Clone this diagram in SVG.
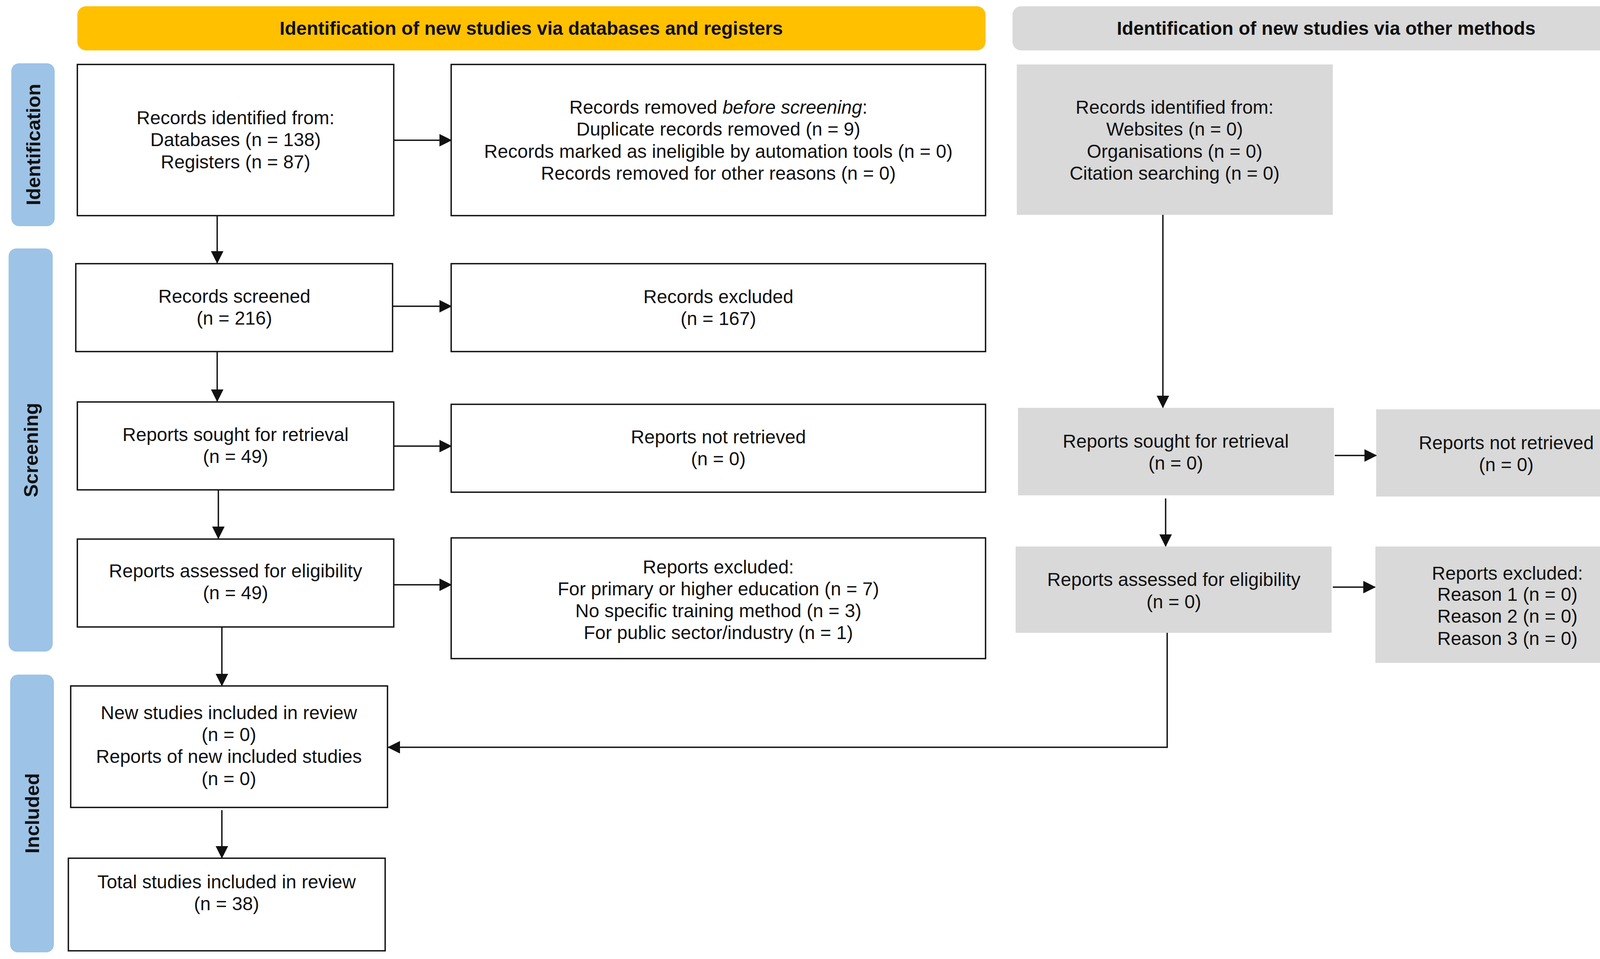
<svg xmlns="http://www.w3.org/2000/svg" width="4213" height="2455" viewBox="0 0 4213 2455">
<style>
text{font-family:"Liberation Sans",Arial,sans-serif;font-size:48px;fill:#111;text-anchor:middle}
.hd{font-weight:bold}
.side{font-weight:bold;font-size:50px}
.wbox{fill:#fff;stroke:#111;stroke-width:3.5}
.gbox{fill:#d9d9d9;stroke:none}
.conn{stroke:#111;stroke-width:3.5;fill:none}
</style>
<defs>
<marker id="ah" markerUnits="userSpaceOnUse" markerWidth="32" markerHeight="32" refX="30" refY="16" orient="auto">
<path d="M0,0 L32,16 L0,32 z" fill="#111"/>
</marker>
</defs>
<rect width="4213" height="2455" fill="#fff"/>
<g id="header-db">
<rect x="198" y="16" width="2325" height="113" rx="22" fill="#ffc000"/>
<text class="hd" x="1360" y="89">Identification of new studies via databases and registers</text>
</g>
<g id="header-other">
<rect x="2592" y="16" width="1607" height="113" rx="22" fill="#d9d9d9"/>
<text class="hd" x="3395" y="89">Identification of new studies via other methods</text>
</g>
<g id="side-identification">
<rect x="29" y="162" width="111" height="417" rx="20" fill="#9dc3e6"/>
<text class="side" transform="translate(84.5,370) rotate(-90)" dy="18">Identification</text>
</g>
<g id="side-screening">
<rect x="22" y="636" width="113" height="1032" rx="20" fill="#9dc3e6"/>
<text class="side" transform="translate(78.5,1152) rotate(-90)" dy="18">Screening</text>
</g>
<g id="side-included">
<rect x="26" y="1727" width="112" height="711" rx="20" fill="#9dc3e6"/>
<text class="side" transform="translate(82,2082) rotate(-90)" dy="18">Included</text>
</g>
<g id="records-identified">
<rect class="wbox" x="198" y="165" width="810" height="387"/>
<text x="603" y="318">Records identified from:</text>
<text x="603" y="374">Databases (n = 138)</text>
<text x="603" y="431">Registers (n = 87)</text>
</g>
<g id="records-removed">
<rect class="wbox" x="1155" y="165" width="1368" height="387"/>
<text x="1839" y="291">Records removed <tspan font-style="italic">before screening</tspan>:</text>
<text x="1839" y="347">Duplicate records removed (n = 9)</text>
<text x="1839" y="404">Records marked as ineligible by automation tools (n = 0)</text>
<text x="1839" y="460">Records removed for other reasons (n = 0)</text>
</g>
<g id="records-screened">
<rect class="wbox" x="194" y="675" width="811" height="225"/>
<text x="600" y="775">Records screened</text>
<text x="600" y="831">(n = 216)</text>
</g>
<g id="records-excluded">
<rect class="wbox" x="1155" y="675" width="1368" height="225"/>
<text x="1839" y="776">Records excluded</text>
<text x="1839" y="832">(n = 167)</text>
</g>
<g id="reports-sought">
<rect class="wbox" x="198" y="1029" width="810" height="225"/>
<text x="603" y="1129">Reports sought for retrieval</text>
<text x="603" y="1185">(n = 49)</text>
</g>
<g id="reports-not-retrieved">
<rect class="wbox" x="1155" y="1035" width="1368" height="225"/>
<text x="1839" y="1135">Reports not retrieved</text>
<text x="1839" y="1191">(n = 0)</text>
</g>
<g id="reports-assessed">
<rect class="wbox" x="198" y="1380" width="810" height="225"/>
<text x="603" y="1478">Reports assessed for eligibility</text>
<text x="603" y="1534">(n = 49)</text>
</g>
<g id="reports-excluded">
<rect class="wbox" x="1155" y="1377" width="1368" height="309"/>
<text x="1839" y="1468">Reports excluded:</text>
<text x="1839" y="1524">For primary or higher education (n = 7)</text>
<text x="1839" y="1580">No specific training method (n = 3)</text>
<text x="1839" y="1636">For public sector/industry (n = 1)</text>
</g>
<g id="new-studies">
<rect class="wbox" x="181" y="1756" width="811" height="311"/>
<text x="586" y="1841">New studies included in review</text>
<text x="586" y="1897">(n = 0)</text>
<text x="586" y="1953">Reports of new included studies</text>
<text x="586" y="2010">(n = 0)</text>
</g>
<g id="total-studies">
<rect class="wbox" x="175" y="2197" width="811" height="237"/>
<text x="580" y="2274">Total studies included in review</text>
<text x="580" y="2330">(n = 38)</text>
</g>
<g id="other-records">
<rect class="gbox" x="2603" y="165" width="809" height="385"/>
<text x="3007" y="291">Records identified from:</text>
<text x="3007" y="347">Websites (n = 0)</text>
<text x="3007" y="404">Organisations (n = 0)</text>
<text x="3007" y="460">Citation searching (n = 0)</text>
</g>
<g id="other-sought">
<rect class="gbox" x="2606" y="1044" width="809" height="224"/>
<text x="3010" y="1146">Reports sought for retrieval</text>
<text x="3010" y="1202">(n = 0)</text>
</g>
<g id="other-not-retrieved">
<rect class="gbox" x="3523" y="1048" width="666" height="223"/>
<text x="3856" y="1150">Reports not retrieved</text>
<text x="3856" y="1206">(n = 0)</text>
</g>
<g id="other-assessed">
<rect class="gbox" x="2600" y="1399" width="809" height="221"/>
<text x="3005" y="1500">Reports assessed for eligibility</text>
<text x="3005" y="1557">(n = 0)</text>
</g>
<g id="other-excluded">
<rect class="gbox" x="3521" y="1399" width="676" height="298"/>
<text x="3859" y="1484">Reports excluded:</text>
<text x="3859" y="1538">Reason 1 (n = 0)</text>
<text x="3859" y="1594">Reason 2 (n = 0)</text>
<text x="3859" y="1651">Reason 3 (n = 0)</text>
</g>
<g id="connectors">
<line class="conn" x1="1008" y1="359" x2="1155" y2="359" marker-end="url(#ah)"/>
<line class="conn" x1="556" y1="552" x2="556" y2="673" marker-end="url(#ah)"/>
<line class="conn" x1="1005" y1="784" x2="1155" y2="784" marker-end="url(#ah)"/>
<line class="conn" x1="556" y1="900" x2="556" y2="1027" marker-end="url(#ah)"/>
<line class="conn" x1="1008" y1="1142" x2="1155" y2="1142" marker-end="url(#ah)"/>
<line class="conn" x1="559" y1="1254" x2="559" y2="1378" marker-end="url(#ah)"/>
<line class="conn" x1="1008" y1="1497" x2="1155" y2="1497" marker-end="url(#ah)"/>
<line class="conn" x1="568" y1="1605" x2="568" y2="1755" marker-end="url(#ah)"/>
<line class="conn" x1="568" y1="2074" x2="568" y2="2196" marker-end="url(#ah)"/>
<line class="conn" x1="2977" y1="550" x2="2977" y2="1043" marker-end="url(#ah)"/>
<line class="conn" x1="3417" y1="1166" x2="3523" y2="1166" marker-end="url(#ah)"/>
<line class="conn" x1="2984" y1="1276" x2="2984" y2="1398" marker-end="url(#ah)"/>
<line class="conn" x1="3412" y1="1503" x2="3520" y2="1503" marker-end="url(#ah)"/>
<polyline class="conn" points="2988,1620 2988,1913 994,1913" marker-end="url(#ah)"/>
</g>
</svg>
